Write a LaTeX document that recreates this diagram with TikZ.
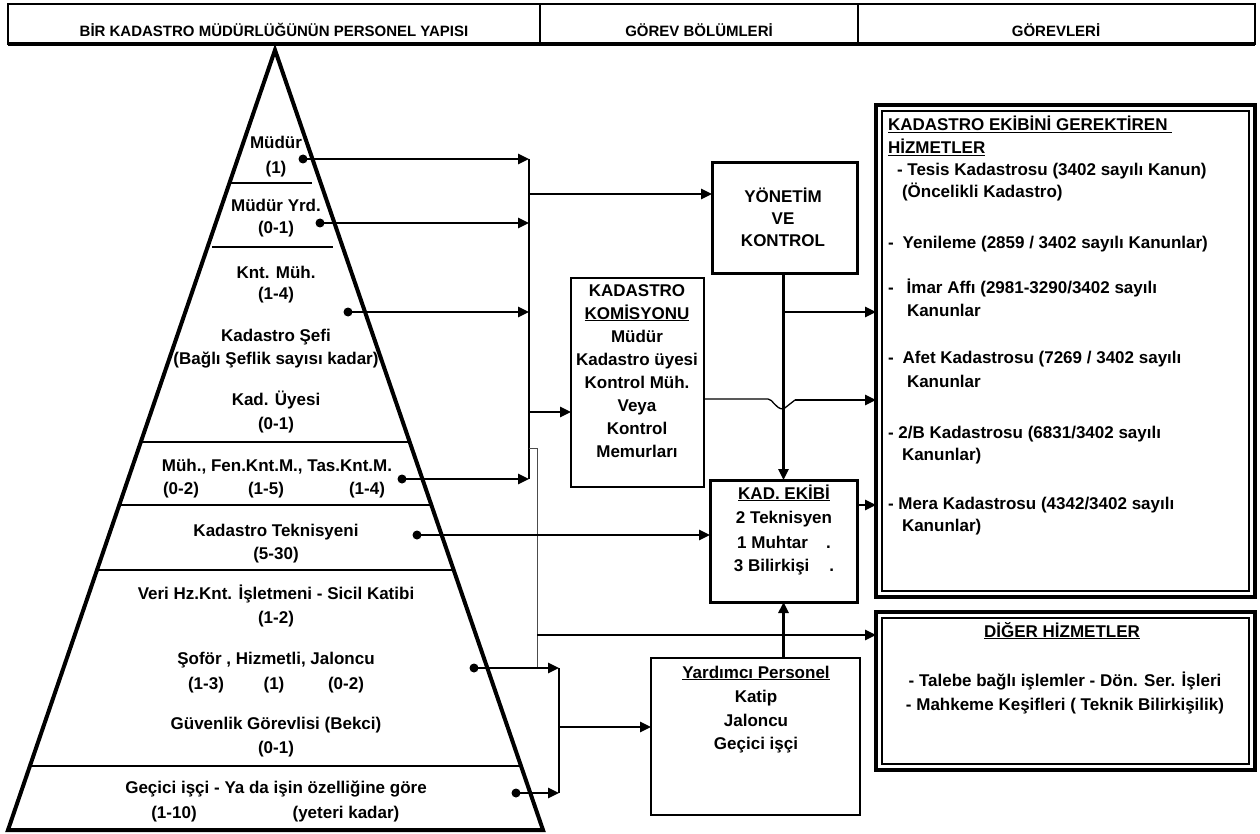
\documentclass[tikz,border=0pt]{standalone}
\usepackage{fontspec}
\setmainfont{Liberation Sans}
\usetikzlibrary{arrows.meta,calc}
\begin{document}
\begin{tikzpicture}[x=1pt,y=-1pt,
  every node/.style={inner sep=0pt,outer sep=0pt},
  lbl/.style={anchor=base,font=\bfseries\fontsize{17}{20}\selectfont},
  lbll/.style={anchor=base west,font=\bfseries\fontsize{17}{20}\selectfont},
  hdr/.style={anchor=base,font=\bfseries\fontsize{15}{18}\selectfont},
  conn/.style={line width=2.5pt,-{Triangle[length=11pt,width=10pt]}},
  bus/.style={line width=1.5pt},
  thinbus/.style={line width=1pt,black!70},
  dotn/.style={circle,fill=black,minimum size=9pt},
  panel/.style={draw,rectangle,line width=#1},
  panel/.default=2.5pt,
]
\useasboundingbox (0,0) rectangle (1260,834);

% ---------- header bar ----------
\node[panel=2pt,minimum width=1247pt,minimum height=40pt] (head) at (631.5,24) {};
\draw[line width=3.5pt] (head.south west) -- (head.south east);
\coordinate (hd1) at (540,0);
\coordinate (hd2) at (858,0);
\draw[line width=2pt] (head.north -| hd1) -- (head.south -| hd1);
\draw[line width=2pt] (head.north -| hd2) -- (head.south -| hd2);
\node[hdr] (hdA) at (274,37) {BİR KADASTRO MÜDÜRLÜĞÜNÜN PERSONEL YAPISI};
\node[hdr] (hdB) at (699,37) {GÖREV BÖLÜMLERİ};
\node[hdr] (hdC) at (1056,37) {GÖREVLERİ};

% ---------- staff pyramid ----------
\coordinate (apex) at (275,50);
\coordinate (bl) at (8,830);
\coordinate (br) at (543,830);
\begin{scope}
  \clip (apex) -- (bl) -- (br) -- cycle;
  \foreach \yy in {442,505,570,766} \draw[line width=2.5pt] (0,\yy) -- (560,\yy);
\end{scope}
\draw[line width=2.5pt] (230,183) -- (312,183);
\draw[line width=2.5pt] (212,247) -- (333,247);
\draw[line width=4pt,line join=miter] (apex) -- (bl) -- (br) -- cycle;

\node[lbl] (t1a) at (276,149) {Müdür};
\node[lbl] (t1b) at (276,174) {(1)};
\node[lbl] (t2a) at (276,212) {Müdür Yrd.};
\node[lbl] (t2b) at (276,234) {(0-1)};
\node[lbl] (t3a) at (276,278) {Knt. Müh.};
\node[lbl] (t3b) at (276,299) {(1-4)};
\node[lbl] (t4a) at (276,341) {Kadastro Şefi};
\node[lbl] (t4b) at (276,364) {(Bağlı Şeflik sayısı kadar)};
\node[lbl] (t5a) at (276,405) {Kad. Üyesi};
\node[lbl] (t5b) at (276,429) {(0-1)};
\node[lbl] (t6a) at (277,471) {Müh., Fen.Knt.M., Tas.Knt.M.};
\node[lbl] (t6b) at (181,494) {(0-2)};
\node[lbl] (t6c) at (266,494) {(1-5)};
\node[lbl] (t6d) at (367,494) {(1-4)};
\node[lbl] (t7a) at (276,536) {Kadastro Teknisyeni};
\node[lbl] (t7b) at (276,559) {(5-30)};
\node[lbl] (t8a) at (276,599) {Veri Hz.Knt. İşletmeni - Sicil Katibi};
\node[lbl] (t8b) at (276,623) {(1-2)};
\node[lbl] (t9a) at (276,664) {Şoför , Hizmetli, Jaloncu};
\node[lbl] (t9b) at (206,689) {(1-3)};
\node[lbl] (t9c) at (274,689) {(1)};
\node[lbl] (t9d) at (346,689) {(0-2)};
\node[lbl] (t10a) at (276,729) {Güvenlik Görevlisi (Bekci)};
\node[lbl] (t10b) at (276,753) {(0-1)};
\node[lbl] (t11a) at (276,793) {Geçici işçi - Ya da işin özelliğine göre};
\node[lbl] (t11b) at (174,818) {(1-10)};
\node[lbl] (t11c) at (346,818) {(yeteri kadar)};

% ---------- middle boxes ----------
\node[panel=3pt,minimum width=145pt,minimum height=110pt] (yon) at (784.5,218) {};
\node[lbl] (yon1) at (783,203) {YÖNETİM};
\node[lbl] (yon2) at (783,225) {VE};
\node[lbl] (yon3) at (783,247) {KONTROL};

\node[panel=2pt,minimum width=133pt,minimum height=209pt] (kom) at (637.5,382.5) {};
\node[lbl] (kom1) at (637,296) {KADASTRO};
\node[lbl] (kom2) at (637,319) {\underline{KOMİSYONU}};
\node[lbl] (kom3) at (637,342) {Müdür};
\node[lbl] (kom4) at (637,365) {Kadastro üyesi};
\node[lbl] (kom5) at (637,388) {Kontrol Müh.};
\node[lbl] (kom6) at (637,411) {Veya};
\node[lbl] (kom7) at (637,434) {Kontrol};
\node[lbl] (kom8) at (637,457) {Memurları};

\node[panel=3pt,minimum width=147pt,minimum height=122pt] (kad) at (783.5,541) {};
\node[lbl] (kad1) at (784,499) {\underline{KAD. EKİBİ}};
\node[lbl] (kad2) at (784,523) {2 Teknisyen};
\node[lbl] (kad3) at (784,548) {1 Muhtar\hspace{18pt}.};
\node[lbl] (kad4) at (784,571) {3 Bilirkişi\hspace{20pt}.};

\node[panel=2.5pt,minimum width=209pt,minimum height=157pt] (yard) at (755.5,736.5) {};
\node[lbl] (yard1) at (756,678) {\underline{Yardımcı Personel}};
\node[lbl] (yard2) at (756,702) {Katip};
\node[lbl] (yard3) at (756,726) {Jaloncu};
\node[lbl] (yard4) at (756,749) {Geçici işçi};

% ---------- right-hand service boxes ----------
\node[panel=4pt,minimum width=379pt,minimum height=492pt] (hiz) at (1065.5,351) {};
\draw[line width=1.2pt] ([shift={(6,-6)}]hiz.south west) rectangle ([shift={(-6,6)}]hiz.north east);
\node[lbll] (hz1) at (888,131) {\underline{KADASTRO EKİBİNİ GEREKTİREN\ }};
\node[lbll] (hz2) at (888,154) {\underline{HİZMETLER}};
\node[lbll] (hz3) at (897,176) {- Tesis Kadastrosu (3402 sayılı Kanun)};
\node[lbll] (hz4) at (902,198) {(Öncelikli Kadastro)};
\node[lbll] (hz5) at (888,248) {-\hspace{9pt}Yenileme (2859 / 3402 sayılı Kanunlar)};
\node[lbll] (hz6) at (888,293) {-\hspace{13pt}İmar Affı (2981-3290/3402 sayılı};
\node[lbll] (hz7) at (907,316) {Kanunlar};
\node[lbll] (hz8) at (888,363) {-\hspace{9pt}Afet Kadastrosu (7269 / 3402 sayılı};
\node[lbll] (hz9) at (907,387) {Kanunlar};
\node[lbll] (hz10) at (888,438) {- 2/B Kadastrosu (6831/3402 sayılı};
\node[lbll] (hz11) at (902,460) {Kanunlar)};
\node[lbll] (hz12) at (888,509) {- Mera Kadastrosu (4342/3402 sayılı};
\node[lbll] (hz13) at (902,531) {Kanunlar)};

\node[panel=4pt,minimum width=379pt,minimum height=158pt] (dig) at (1065.5,691) {};
\draw[line width=1.2pt] ([shift={(6,-6)}]dig.south west) rectangle ([shift={(-6,6)}]dig.north east);
\node[lbl] (dg1) at (1062,637) {\underline{DİĞER HİZMETLER}};
\node[lbl] (dg2) at (1065,686) {- Talebe bağlı işlemler - Dön. Ser. İşleri};
\node[lbl] (dg3) at (1065,710) {- Mahkeme Keşifleri ( Teknik Bilirkişilik)};

% ---------- connectors from the pyramid ----------
\node[dotn] (d1) at (303,159) {};
\node[dotn] (d2) at (320,223) {};
\node[dotn] (d3) at (348,312) {};
\node[dotn] (d4) at (402,479) {};
\node[dotn] (d5) at (417,535) {};
\node[dotn] (d6) at (474,668) {};
\node[dotn] (d7) at (516,793) {};

\coordinate (bus) at (529,0);
\coordinate (b1) at (529,159);
\coordinate (b2) at (529,194);
\coordinate (b3) at (529,412);
\coordinate (b4) at (529,479);
\draw[bus] (b1) -- (b4);
\draw[conn] (d1.center) -- (d1 -| bus);
\draw[conn] (d2.center) -- (d2 -| bus);
\draw[conn] (d3.center) -- (d3 -| bus);
\draw[conn] (d4.center) -- (d4 -| bus);
\draw[conn] (b2) -- (b2 -| yon.west);
\draw[conn] (b3) -- (b3 -| kom.west);

% thin branch to the other services
\coordinate (h1) at (529,448);
\coordinate (h2) at (537,448);
\coordinate (h3) at (537,668);
\coordinate (h4) at (537,635);
\draw[thinbus] (h1) -- (h2) -- (h3);
\draw[conn] (h4) -- (h4 -| dig.west);

% technicians straight to the team
\draw[conn] (d5.center) -- (d5 -| kad.west);

% auxiliary staff
\coordinate (c1) at (559,668);
\coordinate (c2) at (559,727);
\coordinate (c3) at (559,793);
\draw[conn] (d6.center) -- (c1);
\draw[conn] (d7.center) -- (c3);
\draw[bus] (c1) -- (c3);
\draw[conn] (c2) -- (c2 -| yard.west);
\draw[conn] (kad.south |- yard.north) -- (kad.south);

% management and control
\coordinate (y1) at (783.5,312);
\draw[conn] (kad.north |- yon.south) -- (kad.north);
\draw[conn] (y1) -- (y1 -| hiz.west);

% commission line hopping over the vertical
\coordinate (j0) at (0,399);
\coordinate (j1) at (768,399);
\coordinate (j2) at (783.5,409);
\coordinate (j3) at (795,400);
\draw[line width=1.3pt] (kom.east |- j0) -- (j1) .. controls (773,399) and (775,409) .. (j2) -- (j3);
\draw[conn] (j3) -- (j3 -| hiz.west);

% team to cadastral services
\coordinate (k1) at (0,505);
\draw[conn] (kad.east |- k1) -- (hiz.west |- k1);
\end{tikzpicture}
\end{document}
